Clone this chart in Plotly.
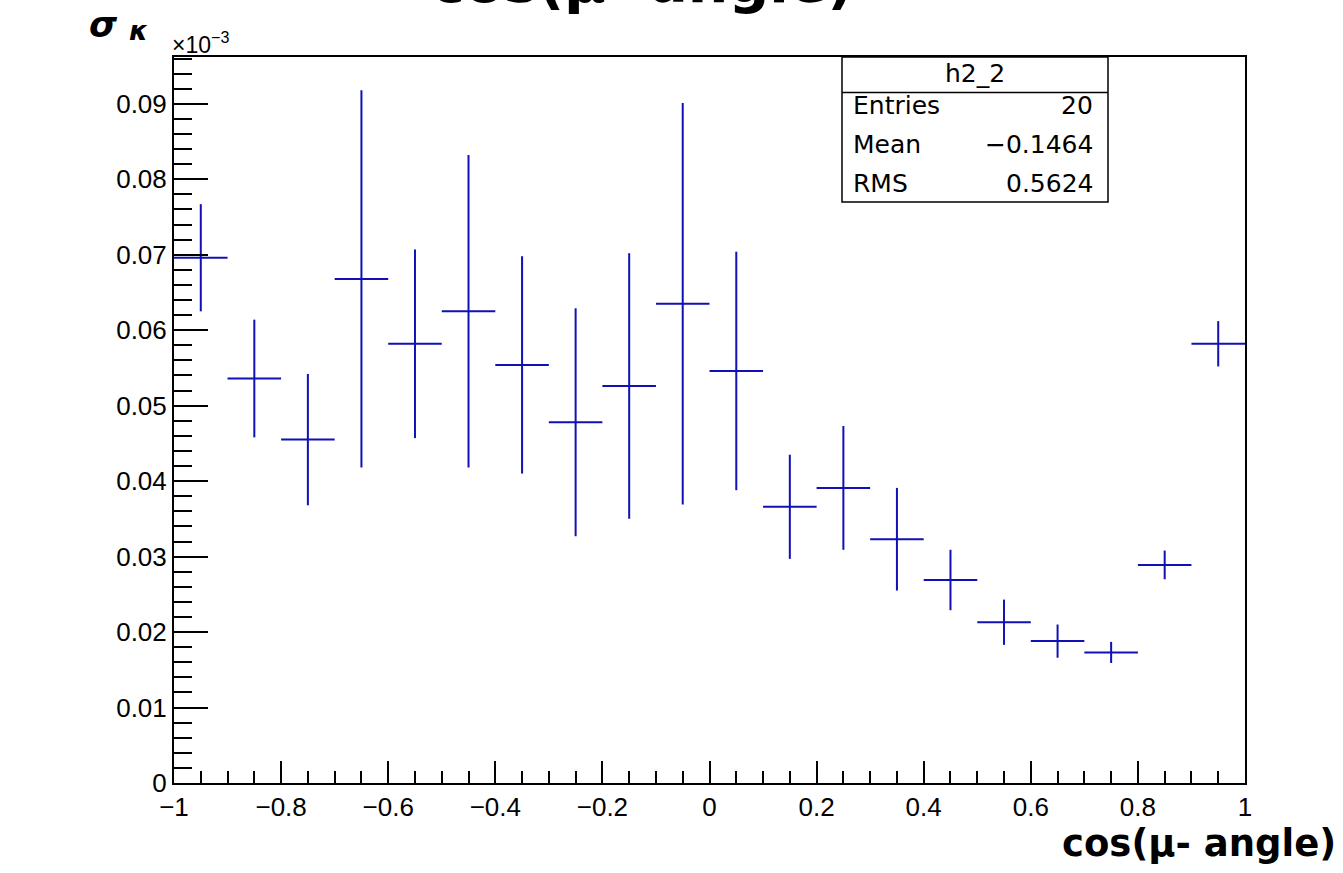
import plotly.graph_objects as go

# ---- data (values displayed in units of 1e-3) ----
bin_centers = [-0.95, -0.85, -0.75, -0.65, -0.55, -0.45, -0.35, -0.25, -0.15, -0.05,
               0.05, 0.15, 0.25, 0.35, 0.45, 0.55, 0.65, 0.75, 0.85, 0.95]
bin_half_widths = [0.05, 0.05, 0.05, 0.05, 0.05, 0.05, 0.05, 0.05, 0.05, 0.05,
                   0.05, 0.05, 0.05, 0.05, 0.05, 0.05, 0.05, 0.05, 0.05, 0.05]
sigma_values = [0.0696, 0.0536, 0.0455, 0.0668, 0.0582, 0.0625, 0.0554, 0.0478, 0.0526, 0.0635,
                0.0546, 0.0366, 0.0391, 0.0323, 0.0269, 0.0213, 0.0188, 0.0173, 0.0289, 0.0582]
sigma_errors = [0.0071, 0.0078, 0.0087, 0.0250, 0.0125, 0.0207, 0.0144, 0.0151, 0.0176, 0.0266,
                0.0158, 0.0069, 0.0082, 0.0068, 0.0040, 0.0030, 0.0022, 0.0014, 0.0019, 0.0030]

y_tick_vals = [0, 0.01, 0.02, 0.03, 0.04, 0.05, 0.06, 0.07, 0.08, 0.09]
y_tick_text = ["0", "0.01", "0.02", "0.03", "0.04", "0.05", "0.06", "0.07", "0.08", "0.09"]

stat_name = "h2_2"
stat_labels = ["Entries", "Mean", "RMS"]
stat_values = ["20", "\u22120.1464", "0.5624"]

title_text = "cos(\u03bc- angle)"

# ---- layout geometry (pixels) ----
W, H = 1343, 873
L, R, T, B = 174, 1245, 57, 783
BLUE = "#1010b4"


def px(x):
    return (x - L) / (R - L)


def py(y):
    return (B - y) / (B - T)


fig = go.Figure()
fig.add_trace(go.Scatter(
    x=bin_centers, y=sigma_values,
    mode="markers",
    marker=dict(size=1, color=BLUE),
    error_y=dict(type="data", array=sigma_errors, visible=True,
                 color=BLUE, thickness=2, width=0),
    error_x=dict(type="data", array=bin_half_widths, visible=True,
                 color=BLUE, thickness=2, width=0),
    cliponaxis=False,
    showlegend=False,
))

axis_font = dict(family="Liberation Sans, Arial", size=26, color="black")

fig.update_layout(
    width=W, height=H,
    margin=dict(l=L, r=W - R, t=T, b=H - B, pad=0),
    paper_bgcolor="white", plot_bgcolor="white",
    xaxis=dict(
        range=[-1, 1], showgrid=False, zeroline=False,
        showline=True, linecolor="black", linewidth=2, mirror=True,
        ticks="inside", ticklen=22, tickwidth=2, tickcolor="black",
        tick0=-1, dtick=0.2, tickfont=axis_font,
        minor=dict(dtick=0.05, tick0=-1, ticks="inside", ticklen=12,
                   tickwidth=2, tickcolor="black"),
    ),
    yaxis=dict(
        range=[0, 0.0962], showgrid=False, zeroline=False,
        showline=True, linecolor="black", linewidth=2, mirror=True,
        ticks="inside", ticklen=34, tickwidth=2, tickcolor="black",
        tickmode="array", tickvals=y_tick_vals, ticktext=y_tick_text,
        tickfont=axis_font,
        minor=dict(dtick=0.002, tick0=0, ticks="inside", ticklen=18,
                   tickwidth=2, tickcolor="black"),
    ),
)

annotations = []
# Top title (cut off by the top edge)
annotations.append(dict(
    text="<b>" + title_text + "</b>", x=px(642), y=py(17),
    xref="paper", yref="paper", xanchor="center", yanchor="bottom",
    showarrow=False, font=dict(family="DejaVu Sans", size=57, color="black"),
))
# X axis title
annotations.append(dict(
    text="<b>" + title_text + "</b>", x=px(1338), y=py(844),
    xref="paper", yref="paper", xanchor="right", yanchor="middle",
    showarrow=False, font=dict(family="DejaVu Sans", size=37, color="black"),
))
# Y axis title: sigma kappa
annotations.append(dict(
    text="<b><i>\u03c3</i></b>", x=px(87), y=py(24),
    xref="paper", yref="paper", xanchor="left", yanchor="middle",
    showarrow=False, font=dict(family="DejaVu Sans", size=36, color="black"),
))
annotations.append(dict(
    text="<b><i>\u03ba</i></b>", x=px(127), y=py(30),
    xref="paper", yref="paper", xanchor="left", yanchor="middle",
    showarrow=False, font=dict(family="DejaVu Sans", size=27, color="black"),
))
# Exponent
annotations.append(dict(
    text="\u00d710<sup>\u22123</sup>", x=px(170), y=py(43),
    xref="paper", yref="paper", xanchor="left", yanchor="middle",
    showarrow=False, font=dict(family="Liberation Sans, Arial", size=23, color="black"),
))

# Stat box
box_x0, box_x1 = px(842), px(1108)
box_y0, box_y1 = py(202), py(T)
div_y = py(92.5)
fig.add_shape(type="rect", xref="paper", yref="paper",
              x0=box_x0, x1=box_x1, y0=box_y0, y1=box_y1,
              line=dict(color="black", width=1.5), fillcolor="white", layer="above")
fig.add_shape(type="line", xref="paper", yref="paper",
              x0=box_x0, x1=box_x1, y0=div_y, y1=div_y,
              line=dict(color="black", width=1.5), layer="above")
stat_font = dict(family="DejaVu Sans", size=25, color="black")
annotations.append(dict(
    text=stat_name, x=px(975), y=py(74), xref="paper", yref="paper",
    xanchor="center", yanchor="middle", showarrow=False, font=stat_font,
))
row_y = [106, 144, 183]
for lab, val, yy in zip(stat_labels, stat_values, row_y):
    annotations.append(dict(
        text=lab, x=px(851), y=py(yy), xref="paper", yref="paper",
        xanchor="left", yanchor="middle", showarrow=False, font=stat_font,
    ))
    annotations.append(dict(
        text=val, x=px(1095), y=py(yy), xref="paper", yref="paper",
        xanchor="right", yanchor="middle", showarrow=False, font=stat_font,
    ))

fig.update_layout(annotations=annotations)
fig.write_html("out.html")
